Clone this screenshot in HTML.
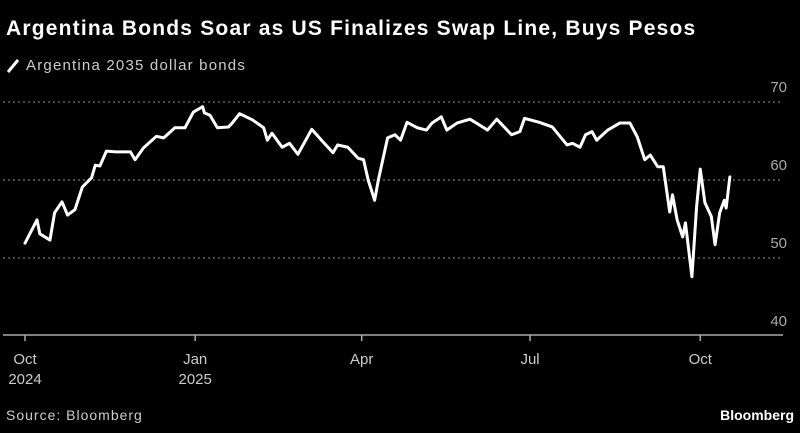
<!DOCTYPE html>
<html><head><meta charset="utf-8"><style>
body{margin:0;background:#000;}
svg{display:block;font-family:"Liberation Sans","DejaVu Sans",sans-serif;}
</style></head><body>
<svg id="chart" width="800" height="433" viewBox="0 0 800 433">
<rect width="800" height="433" fill="#000"/>
<text x="6" y="35" fill="#fff" font-size="21" font-weight="bold" letter-spacing="1.2">Argentina Bonds Soar as US Finalizes Swap Line, Buys Pesos</text>
<g>
<line x1="8" y1="72" x2="18" y2="60" stroke="#fff" stroke-width="3"/>
<text x="26" y="70" fill="#ccc" font-size="15" letter-spacing="1.2">Argentina 2035 dollar bonds</text>
</g>
<g id="grid"></g><g id="axes"></g><g id="series"></g>
<text x="6" y="420" fill="#ccc" font-size="14" letter-spacing="1">Source: Bloomberg</text>
<text x="794" y="420" fill="#fff" font-size="14" font-weight="bold" text-anchor="end">Bloomberg</text>
</svg>
<script>
const days=[0,6.5,8,13.5,16,20,23,27,31,36,38,40.5,44,49,57,59.5,64,71,75,81,86.5,91,96,97,100,104,110,112,116,123,129,131,133.5,139,143,147.5,155,161,166.5,169,174.5,180,183,185.5,189,191,196,200,203,206.5,212,217,220,225,228,233.5,240.5,244,250,255,263,267.5,270,278,285,293,296,300,303,306.5,309,315,321.5,327,331,335,338,342,345,348.5,350,352.5,355.5,357,360.5,363,365,367.5,371,373,375.5,378,379,381];
const values=[51.9,54.9,53.1,52.3,55.8,57.2,55.5,56.2,59.1,60.3,61.9,61.8,63.7,63.6,63.6,62.6,64.1,65.6,65.4,66.7,66.7,68.7,69.4,68.6,68.3,66.7,66.8,67.3,68.5,67.7,66.7,65.1,66.0,64.2,64.7,63.3,66.5,64.9,63.5,64.5,64.2,62.8,62.6,60,57.4,60,65.4,65.8,65.1,67.4,66.7,66.4,67.3,68.1,66.4,67.3,67.8,67.3,66.4,67.8,65.8,66.2,67.9,67.4,66.8,64.5,64.7,64.2,65.8,66.2,65.1,66.4,67.3,67.3,65.5,62.6,63.2,61.7,61.7,55.9,58.1,54.9,52.7,54.5,47.6,56.5,61.4,57.1,55.3,51.7,55.8,57.4,56.4,60.4];
const yTicks=[40,50,60,70];
const xTickDays=[0,92,182,273,365];
const xTickLabels=[["Oct","2024"],["Jan","2025"],["Apr",""],["Jul",""],["Oct",""]];
const NS="http://www.w3.org/2000/svg";
const xS=d=>25+d*1.85;
const yS=v=>180-(v-60)*7.8;
const grid=document.getElementById('grid'),axes=document.getElementById('axes'),series=document.getElementById('series');
function mk(tag,attrs,parent){const e=document.createElementNS(NS,tag);for(const k in attrs)e.setAttribute(k,attrs[k]);parent.appendChild(e);return e;}
yTicks.forEach(t=>{
  if(t>40){const l=mk('line',{x1:3,x2:783,y1:yS(t),y2:yS(t),stroke:'#777','stroke-width':1.3,'stroke-dasharray':'2 3'},grid);
  
  }
  const tx=mk('text',{x:787,y:yS(t)-10,fill:'#aaa','font-size':15,'text-anchor':'end'},axes);
  tx.textContent=t;
  
  
});
const ax=mk('line',{x1:3,x2:783,y1:335,y2:335,stroke:'#aaa','stroke-width':1.5},axes);


xTickDays.forEach((d,i)=>{
  const x=xS(d);
  const tk=mk('line',{x1:x,x2:x,y1:335,y2:341,stroke:'#aaa','stroke-width':1.5},axes);
  
  
  const t=mk('text',{x:x,y:364,fill:'#ccc','font-size':15,'text-anchor':'middle'},axes);
  t.textContent=xTickLabels[i][0];
  
  
  if(xTickLabels[i][1]){const t2=mk('text',{x:x,y:384,fill:'#ccc','font-size':15,'text-anchor':'middle'},axes);
  t2.textContent=xTickLabels[i][1];
  
  }
});
const p=mk('polyline',{points:days.map((d,i)=>xS(d)+','+yS(values[i])).join(' '),fill:'none',stroke:'#fff','stroke-width':3,'stroke-linejoin':'round','stroke-linecap':'round'},series);


</script>
</body></html>
